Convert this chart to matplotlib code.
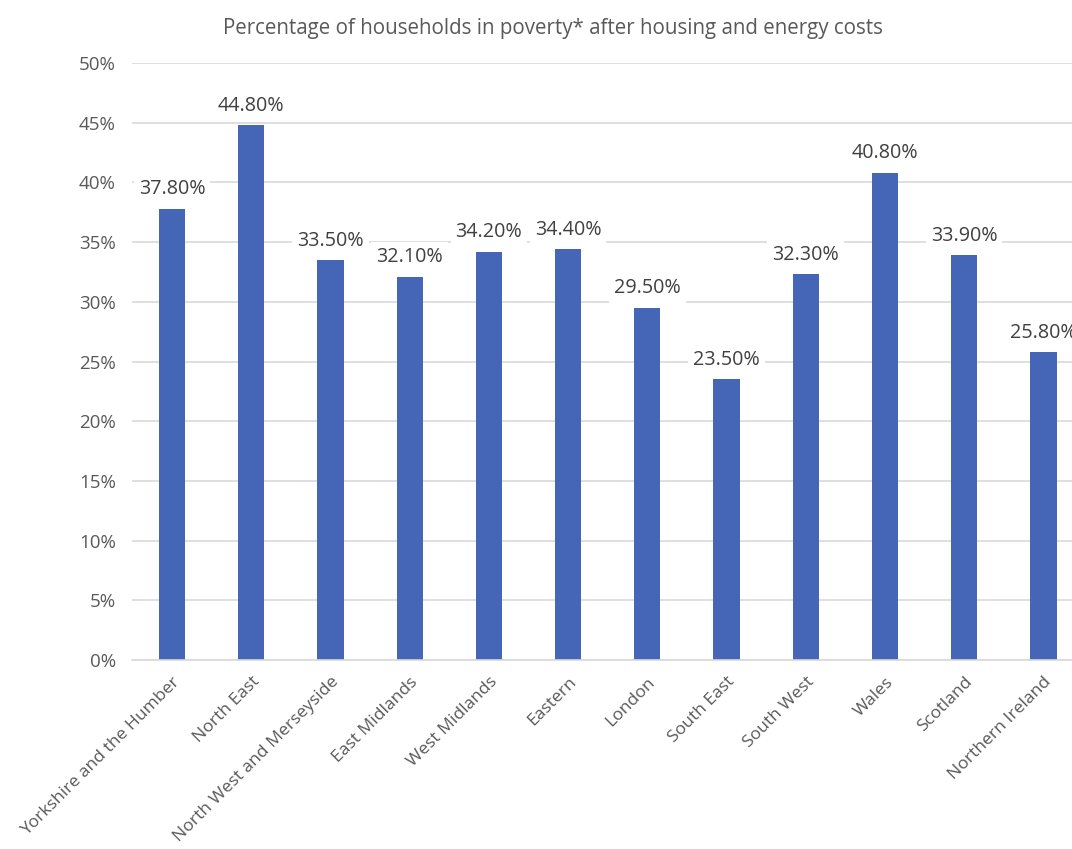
import matplotlib.pyplot as plt
from matplotlib.ticker import FuncFormatter

regions = ['Yorkshire and the Humber', 'North East', 'North West and Merseyside',
           'East Midlands', 'West Midlands', 'Eastern', 'London', 'South East',
           'South West', 'Wales', 'Scotland', 'Northern Ireland']
poverty_pct = [37.8, 44.8, 33.5, 32.1, 34.2, 34.4, 29.5, 23.5, 32.3, 40.8, 33.9, 25.8]
y_ticks = [0, 5, 10, 15, 20, 25, 30, 35, 40, 45, 50]

plt.rcParams['font.family'] = ['Open Sans', 'DejaVu Sans']
text_grey = '#595959'

fig = plt.figure(figsize=(10.72, 8.49), dpi=100)
ax = fig.add_axes([0.1235, 0.2226, 0.8868, 0.7032])

x = range(len(regions))
bars = ax.bar(x, poverty_pct, width=0.33, color='#4565B6', zorder=2)

# data labels with white boxes that cut the gridlines
for xi, v in zip(x, poverty_pct):
    ax.annotate(f'{v:.2f}%', (xi, v), xytext=(0, 14), textcoords='offset points',
                ha='center', va='center', fontsize=14.2, color='#404040', zorder=3,
                bbox=dict(boxstyle='square,pad=0.25', fc='white', ec='none'),
                annotation_clip=False)

ax.set_xlim(-0.5, len(regions) - 0.5)
ax.set_ylim(0, 50)
ax.set_yticks(y_ticks)
ax.yaxis.set_major_formatter(FuncFormatter(lambda v, p: f'{v:.0f}%'))
ax.grid(axis='y', color='#d9d9d9', linewidth=1.2, zorder=0)
ax.set_axisbelow(True)
for s in ['top', 'right', 'left']:
    ax.spines[s].set_visible(False)
ax.spines['bottom'].set_color('#d9d9d9')
ax.spines['bottom'].set_linewidth(1.2)
ax.tick_params(axis='both', length=0, colors=text_grey)
ax.tick_params(axis='y', pad=12, labelsize=13.5)
ax.set_xticks(list(x))
ax.set_xticklabels(regions, rotation=45, ha='right', rotation_mode='anchor')
ax.tick_params(axis='x', pad=10, labelsize=12.6)

fig.text(0.516, 0.966, 'Percentage of households in poverty* after housing and energy costs',
         ha='center', va='center', fontsize=14.8, color=text_grey)

fig.savefig('out.png', dpi=100)
